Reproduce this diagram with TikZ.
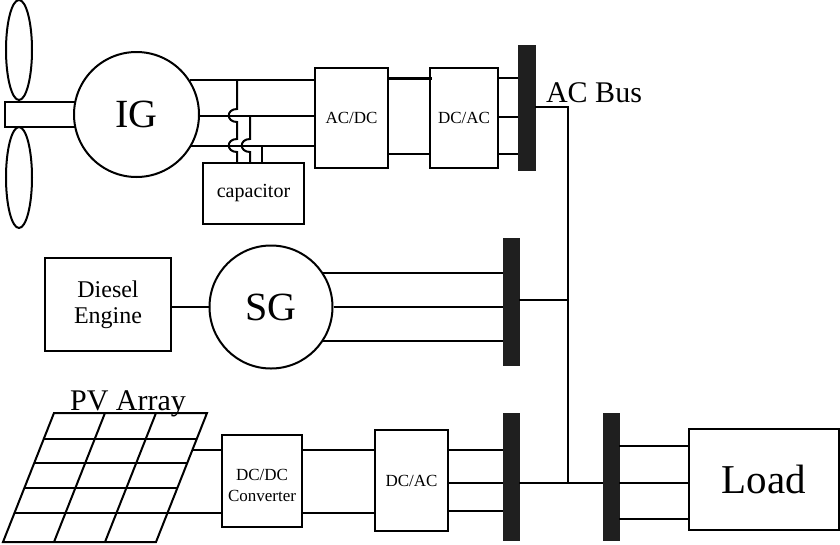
\documentclass[tikz,border=0pt]{standalone}
\usepackage{fontspec}
\setmainfont{Liberation Serif}
\begin{document}
\begin{tikzpicture}[x=1pt,y=-1pt,line width=2pt,
  box/.style={draw,rectangle,inner sep=0pt,line width=2pt,align=center},
  gen/.style={draw,circle,inner sep=0pt,fill=white,line width=2pt},
  busbar/.style={draw=black!88,fill=black!88,rectangle,inner sep=0pt,line width=0.5pt},
  wire/.style={line width=2pt},
  dclink/.style={line width=3pt},
  bigtxt/.style={font=\fontsize{40}{40}\selectfont},
  midtxt/.style={font=\fontsize{30}{30}\selectfont},
  smalltxt/.style={font=\fontsize{17}{21}\selectfont}]
\useasboundingbox (0,0) rectangle (840,544);

% ---------- wind turbine ----------
\draw (19,50) ellipse [x radius=13, y radius=50];
\draw (19,177.5) ellipse [x radius=13, y radius=50.5];
\draw (5,102) rectangle (90,127);
\node[gen,minimum size=125pt,bigtxt] (IG) at (136.5,114.5) {IG};

\node[box,minimum width=73pt,minimum height=100pt,smalltxt] (acdc) at (351.5,118) {AC/DC};
\node[box,minimum width=68pt,minimum height=100pt,smalltxt] (dcac1) at (464,118) {DC/AC};
\node[box,minimum width=101pt,minimum height=61pt,font=\fontsize{20}{20}\selectfont] (cap) at (253.5,193.5) {capacitor};
\node[busbar,minimum width=17pt,minimum height=125pt] (bus1) at (526.5,107.5) {};
\node[anchor=base,midtxt] (acbus) at (594,102) {AC Bus};

\draw[wire] (IG.33.5) -- (IG.33.5 -| acdc.west);
\draw[wire] (IG.-1.4) -- (IG.-1.4 -| acdc.west);
\draw[wire] (IG.-30.3) -- (IG.-30.3 -| acdc.west);

\coordinate (w1) at (237,80);
\coordinate (w2) at (250,116);
\coordinate (w3) at (262,146);
\draw[wire] (w1) -- (237,109) .. controls (226,109) and (226,122) .. (237,122)
  -- (237,139) .. controls (226,139) and (226,152) .. (237,152) -- (cap.north -| w1);
\draw[wire] (w2) -- (250,139) .. controls (239,139) and (239,152) .. (250,152) -- (cap.north -| w2);
\draw[wire] (w3) -- (cap.north -| w3);

\draw[dclink] (acdc.east |- 0,78) -- ([xshift=3pt]dcac1.west |- 0,78);
\draw[wire] (acdc.east |- 0,154) -- (dcac1.west |- 0,154);

\draw[wire] (dcac1.east |- 0,78) -- (bus1.west |- 0,78);
\draw[wire] (dcac1.east |- 0,117) -- (bus1.west |- 0,117);
\draw[wire] (dcac1.east |- 0,154) -- (bus1.west |- 0,154);

% ---------- diesel ----------
\node[box,minimum width=126pt,minimum height=93pt,font=\fontsize{24}{26}\selectfont] (diesel) at (108,304.5) {Diesel\\Engine};
\node[gen,minimum size=123pt,bigtxt] (SG) at (271,307) {SG};
\node[busbar,minimum width=16pt,minimum height=127pt] (bus2) at (511,301.5) {};
\draw[wire] (diesel.east |- SG.center) -- (SG.west);
\draw[wire] (SG.33.6) -- (SG.33.6 -| bus2.west);
\draw[wire] (SG.east) -- (SG.east -| bus2.west);
\draw[wire] (SG.-33.6) -- (SG.-33.6 -| bus2.west);

% ---------- PV ----------
\node[anchor=base,midtxt] (pvtxt) at (128,410) {PV Array};
\draw[line width=2pt] (54,413) -- (207,413) -- (156,542) -- (3,542) -- cycle;
\foreach \yy in {439,463,488,513}{
  \draw[line width=2pt] ({54-51*(\yy-413)/129},\yy) -- ({207-51*(\yy-413)/129},\yy);
}
\draw[line width=2pt] (105,413) -- (54,542);
\draw[line width=2pt] (156,413) -- (105,542);
\coordinate (pv1) at (192.4,450);
\coordinate (pv2) at (167.5,513);

\node[box,minimum width=80pt,minimum height=92pt] (dcdc) at (262,481) {};
\node[smalltxt,align=center,inner sep=0pt] (dcdctxt) at ([yshift=-4pt]dcdc.center) {DC/DC\\Converter};
\node[box,minimum width=73pt,minimum height=101pt,smalltxt] (dcac2) at (411.5,480.5) {DC/AC};
\node[busbar,minimum width=16pt,minimum height=127pt] (bus3) at (511,476.5) {};
\node[busbar,minimum width=16pt,minimum height=127pt] (bus4) at (611,476.5) {};
\node[box,minimum width=150pt,minimum height=101pt,font=\fontsize{41}{41}\selectfont] (load) at (764,479.5) {Load};

\draw[wire] (pv1) -- (pv1 -| dcdc.west);
\draw[wire] (pv2) -- (pv2 -| dcdc.west);
\draw[wire] (dcdc.east |- pv1) -- (dcac2.west |- pv1);
\draw[wire] (dcdc.east |- pv2) -- (dcac2.west |- pv2);

\draw[wire] (dcac2.east |- 0,450) -- (bus3.west |- 0,450);
\draw[wire] (dcac2.east |- 0,483) -- (bus3.west |- 0,483);
\draw[wire] (dcac2.east |- 0,511) -- (bus3.west |- 0,511);

\draw[wire] (bus4.east |- 0,446) -- (load.west |- 0,446);
\draw[wire] (bus4.east |- 0,483) -- (load.west |- 0,483);
\draw[wire] (bus4.east |- 0,519) -- (load.west |- 0,519);

% ---------- AC bus interconnection ----------
\coordinate (j1) at (568,107);
\coordinate (j2) at (568,300);
\coordinate (j3) at (568,483);
\draw[wire] (bus1.east |- j1) -- (j1) -- (j3);
\draw[wire] (bus2.east |- j2) -- (j2);
\draw[wire] (bus3.east |- j3) -- (bus4.west |- j3);
\end{tikzpicture}
\end{document}
